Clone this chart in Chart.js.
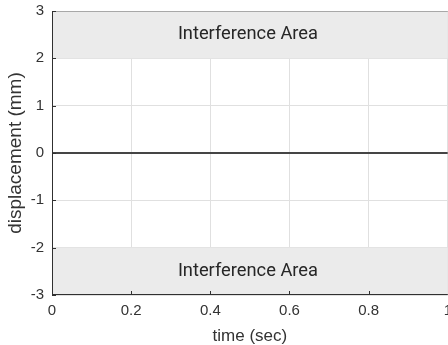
<!DOCTYPE html>
<html>
<head>
<meta charset="utf-8">
<script src="https://cdn.jsdelivr.net/npm/chart.js@4/dist/chart.umd.min.js"></script>
<style>
  html, body { margin: 0; padding: 0; background: #fff; overflow: hidden; }
  #wrap { width: 448px; height: 345px; overflow: hidden; }
  #c { margin-top: -6px; display: block; }
</style>
</head>
<body>
<div id="wrap"><canvas id="c" width="459" height="357"></canvas></div>
<script>
// measured displacement over time (flat, no vibration)
const timeSec = [0, 0.2, 0.4, 0.6, 0.8, 1];
const displacementMm = [0, 0, 0, 0, 0, 0];
const xTicks = [0, 0.2, 0.4, 0.6, 0.8, 1];
const yTicks = [-3, -2, -1, 0, 1, 2, 3];
// interference bands [from, to]
const bandUpper = [2, 3];
const bandLower = [-3, -2];
const bandLabel = 'Interference Area';

const FONT = '"Liberation Sans", Arial, sans-serif';

const bandLabels = {
  id: 'bandLabels',
  afterDatasetsDraw(chart) {
    const { ctx, chartArea: a, scales: { x, y } } = chart;
    ctx.save();
    ctx.font = '18.3px Roboto, sans-serif';
    ctx.fillStyle = '#262626';
    ctx.textAlign = 'center';
    ctx.textBaseline = 'middle';
    const cx = x.getPixelForValue(0.495);
    [bandUpper, bandLower].forEach(b => {
      ctx.fillText(bandLabel, cx, y.getPixelForValue((b[0] + b[1]) / 2));
    });
    // box: left and bottom dark, top light
    ctx.lineWidth = 1;
    ctx.strokeStyle = '#a8a8a8';
    ctx.beginPath();
    ctx.moveTo(a.left, a.top + 0.5);
    ctx.lineTo(a.right, a.top + 0.5);
    ctx.stroke();
    ctx.strokeStyle = '#303030';
    ctx.beginPath();
    ctx.moveTo(a.left + 0.5, a.top);
    ctx.lineTo(a.left + 0.5, a.bottom - 0.5);
    ctx.lineTo(a.right, a.bottom - 0.5);
    ctx.stroke();
    // inward tick marks
    ctx.beginPath();
    xTicks.forEach(v => {
      const px = Math.round(x.getPixelForValue(v)) + 0.5;
      ctx.moveTo(px, a.bottom); ctx.lineTo(px, a.bottom - 4);
    });
    yTicks.forEach(v => {
      const py = Math.round(y.getPixelForValue(v)) + 0.5;
      ctx.moveTo(a.left, py); ctx.lineTo(a.left + 4, py);
    });
    ctx.stroke();
    ctx.restore();
  }
};

new Chart(document.getElementById('c'), {
  type: 'line',
  data: {
    datasets: [
      {
        data: timeSec.map((t, i) => ({ x: t, y: displacementMm[i] })),
        borderColor: '#454545',
        borderWidth: 1.8,
        pointRadius: 0,
        fill: false,
        order: 0
      },
      {
        data: [{ x: 0, y: bandUpper[1] }, { x: 1, y: bandUpper[1] }],
        borderWidth: 0,
        pointRadius: 0,
        backgroundColor: '#ebebeb',
        fill: { value: bandUpper[0] },
        order: 2
      },
      {
        data: [{ x: 0, y: bandLower[0] }, { x: 1, y: bandLower[0] }],
        borderWidth: 0,
        pointRadius: 0,
        backgroundColor: '#ebebeb',
        fill: { value: bandLower[1] },
        order: 2
      }
    ]
  },
  options: {
    responsive: false,
    animation: false,
    layout: { padding: { top: 6, right: 4, left: 0, bottom: 0 } },
    plugins: { legend: { display: false }, tooltip: { enabled: false } },
    scales: {
      x: {
        type: 'linear',
        min: 0, max: 1,
        afterBuildTicks(s) { s.ticks = xTicks.map(v => ({ value: v })); },
        grid: { color: '#e0e0e0', drawTicks: false },
        border: { display: false },
        ticks: { color: '#333', font: { family: FONT, size: 15 }, padding: 7, maxRotation: 0,
          callback: v => String(v) },
        title: { display: true, text: 'time (sec)', color: '#333', font: { family: FONT, size: 17 }, padding: { top: 4 } },
        afterFit(s) { s.height = 56; }
      },
      y: {
        min: -3, max: 3,
        afterBuildTicks(s) { s.ticks = yTicks.map(v => ({ value: v })); },
        grid: { color: '#e0e0e0', drawTicks: false },
        border: { display: false },
        ticks: { color: '#333', font: { family: FONT, size: 15 }, padding: 8,
          callback: v => String(v) },
        title: { display: true, text: 'displacement (mm)', color: '#333', font: { family: FONT, size: 19 }, padding: { bottom: 2 } },
        afterFit(s) { s.width = 52; }
      }
    }
  },
  plugins: [bandLabels]
});
</script>
</body>
</html>
